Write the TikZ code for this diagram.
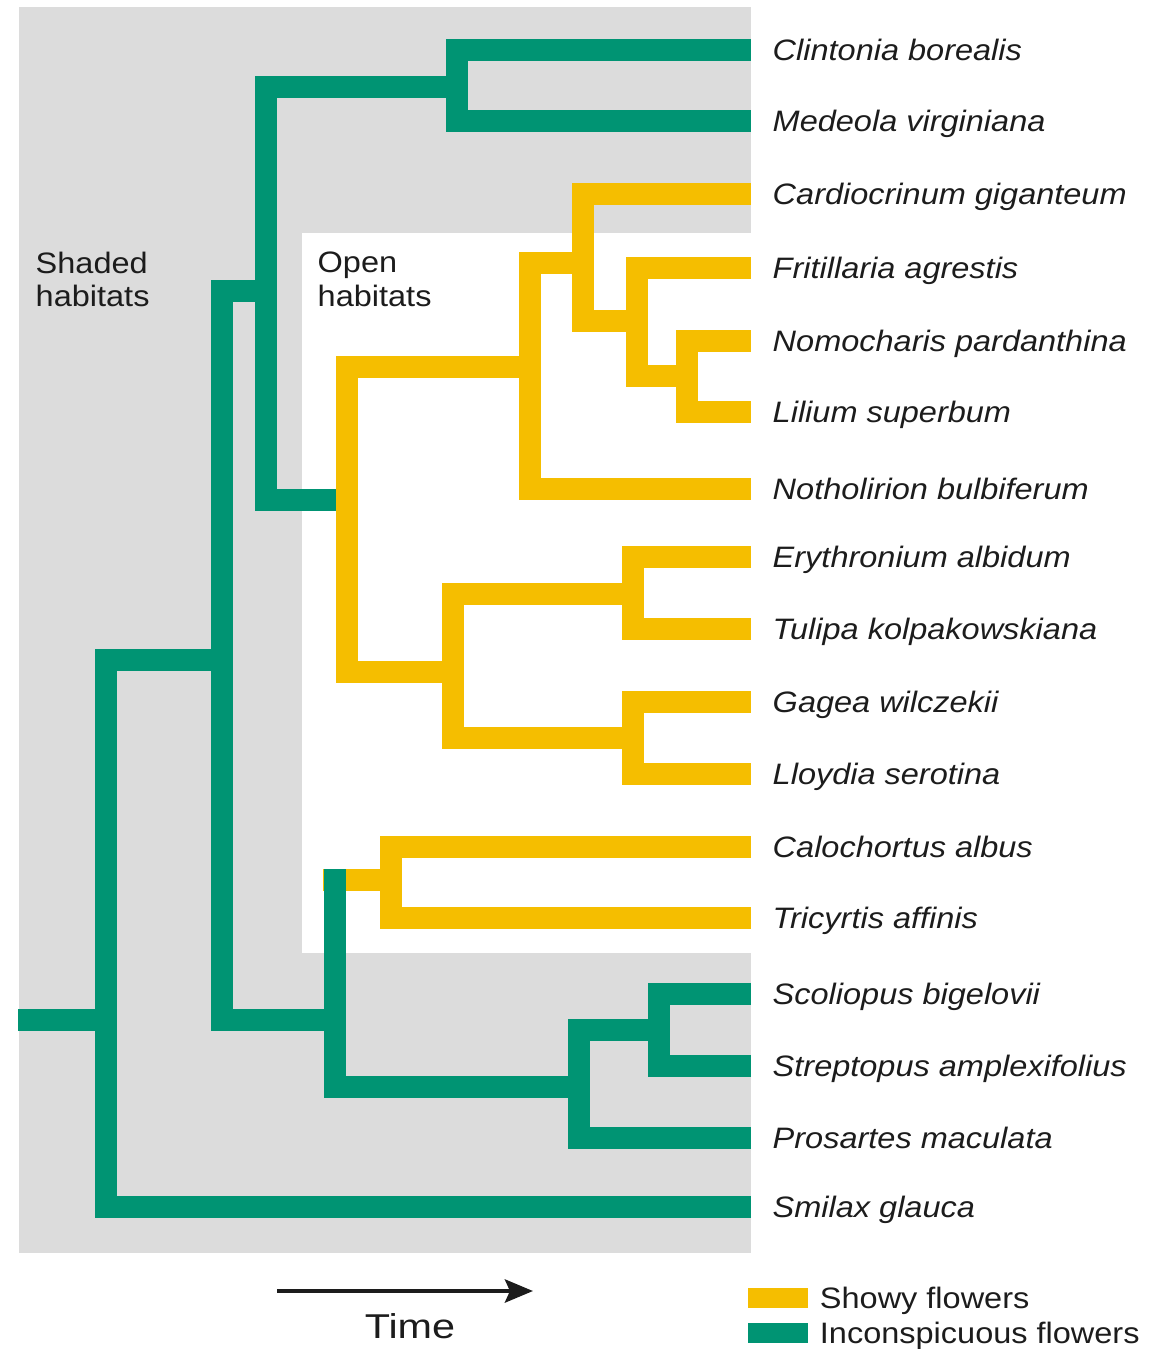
\documentclass[tikz,border=0pt]{standalone}
\usepackage{fontspec}
\setmainfont{Liberation Sans}[FakeStretch=1.1]
\newfontfamily\timefont{Liberation Sans}[FakeStretch=1.2]
\usetikzlibrary{arrows.meta, positioning}
\usepackage{xcolor}
\definecolor{Ink}{HTML}{1C1C1C}
\definecolor{Shade}{HTML}{DCDCDC}
\definecolor{Showy}{HTML}{F5BE00}
\definecolor{Plain}{HTML}{009473}

\begin{document}
\begin{tikzpicture}[
            x=0.01cm, y=-0.01cm,
            node distance=2.1mm,
            branch/.style={line width=6.2pt, line join=miter},
            plainbranch/.style={branch, draw=Plain},
            showybranch/.style={branch, draw=Showy},
            taxon/.style={
                inner sep=0pt,
                font=\fontsize{8.4}{10}\selectfont\itshape,
                text=Ink,
                text height=6pt,
                text depth=0pt
            },
            habitat/.style={
                inner sep=0pt,
                anchor=north west,
                align=left,
                font=\fontsize{8.4}{9.6}\selectfont,
                text=Ink
            },
            swatch/.style={inner sep=0pt, minimum width=0.59cm, minimum height=0.2cm},
            keytext/.style={taxon, font=\fontsize{8.4}{10}\selectfont},
            timearrow/.style={-{Stealth[length=2.8mm, width=2.3mm, inset=0.5mm]}, line width=1.3pt, color=Ink}
        ]
            \useasboundingbox (0,0) rectangle (1160,1349);

            % Habitat areas
            \fill[Shade] (19,7) rectangle (751,1253);
            \fill[white] (302,233) rectangle (751,953);
            \node[habitat] (shaded) at (35,251) {Shaded\\habitats};
            \node[habitat] (open) at (317,251) {Open\\habitats};

            % Internal nodes
            \coordinate (stem) at (18,1020);
            \coordinate (root) at (106,1020);
            \coordinate (core) at (222,660);
            \coordinate (upper) at (266,291);
            \coordinate (clme) at (457,87);
            \coordinate (opengrp) at (347,500);
            \coordinate (lilgrp) at (530,367);
            \coordinate (cafr) at (583,263);
            \coordinate (frno) at (637,321);
            \coordinate (noli) at (687,376);
            \coordinate (erlo) at (453,672);
            \coordinate (ertu) at (633,594);
            \coordinate (galo) at (633,738);
            \coordinate (lower) at (335,1020);
            \coordinate (catrstub) at (323,880);
            \coordinate (catr) at (391,880);
            \coordinate (scpr) at (579,1087);
            \coordinate (scst) at (659,1030);

            % Tips and names
            \coordinate (clintonia) at (751,50);
            \coordinate (medeola) at (751,121);
            \coordinate (cardio) at (751,194);
            \coordinate (fritil) at (751,268);
            \coordinate (nomoch) at (751,341);
            \coordinate (lilium) at (751,412);
            \coordinate (notho) at (751,489);
            \coordinate (erythr) at (751,557);
            \coordinate (tulipa) at (751,629);
            \coordinate (gagea) at (751,702);
            \coordinate (lloydia) at (751,774);
            \coordinate (caloch) at (751,847);
            \coordinate (tricyr) at (751,918);
            \coordinate (scolio) at (751,994);
            \coordinate (strept) at (751,1066);
            \coordinate (prosar) at (751,1138);
            \coordinate (smilax) at (751,1207);

            \node[taxon, right=of clintonia] (clintoniaL) {Clintonia borealis};
            \node[taxon, right=of medeola] (medeolaL) {Medeola virginiana};
            \node[taxon, right=of cardio] (cardioL) {Cardiocrinum giganteum};
            \node[taxon, right=of fritil] (fritilL) {Fritillaria agrestis};
            \node[taxon, right=of nomoch] (nomochL) {Nomocharis pardanthina};
            \node[taxon, right=of lilium] (liliumL) {Lilium superbum};
            \node[taxon, right=of notho] (nothoL) {Notholirion bulbiferum};
            \node[taxon, right=of erythr] (erythrL) {Erythronium albidum};
            \node[taxon, right=of tulipa] (tulipaL) {Tulipa kolpakowskiana};
            \node[taxon, right=of gagea] (gageaL) {Gagea wilczekii};
            \node[taxon, right=of lloydia] (lloydiaL) {Lloydia serotina};
            \node[taxon, right=of caloch] (calochL) {Calochortus albus};
            \node[taxon, right=of tricyr] (tricyrL) {Tricyrtis affinis};
            \node[taxon, right=of scolio] (scolioL) {Scoliopus bigelovii};
            \node[taxon, right=of strept] (streptL) {Streptopus amplexifolius};
            \node[taxon, right=of prosar] (prosarL) {Prosartes maculata};
            \node[taxon, right=of smilax] (smilaxL) {Smilax glauca};

            % Inconspicuous lineages
            \draw[plainbranch] (stem) -- (root);
            \draw[plainbranch] (root) |- (core) (root) |- (smilax);
            \draw[plainbranch] (core) |- (upper) (core) |- (lower);
            \draw[plainbranch] (upper) |- (clme) (upper) |- (opengrp);
            \draw[plainbranch] (clme) |- (clintonia) (clme) |- (medeola);
            \draw[plainbranch] (lower) |- (scpr);
            \draw[plainbranch] (scpr) |- (scst) (scpr) |- (prosar);
            \draw[plainbranch] (scst) |- (scolio) (scst) |- (strept);

            % Showy lineages
            \draw[showybranch] (opengrp) |- (lilgrp) (opengrp) |- (erlo);
            \draw[showybranch] (lilgrp) |- (cafr) (lilgrp) |- (notho);
            \draw[showybranch] (cafr) |- (cardio) (cafr) |- (frno);
            \draw[showybranch] (frno) |- (fritil) (frno) |- (noli);
            \draw[showybranch] (noli) |- (nomoch) (noli) |- (lilium);
            \draw[showybranch] (erlo) |- (ertu) (erlo) |- (galo);
            \draw[showybranch] (ertu) |- (erythr) (ertu) |- (tulipa);
            \draw[showybranch] (galo) |- (gagea) (galo) |- (lloydia);
            \draw[showybranch] (catrstub) -- (catr);
            \draw[showybranch] (catr) |- (caloch) (catr) |- (tricyr);
            \draw[plainbranch, line cap=rect] (lower) -- (lower |- catr);

            % Time axis and key
            \coordinate (tstart) at (277,1291);
            \coordinate (tend) at (533,1291);
            \draw[timearrow] (tstart) -- (tend);
            \node[anchor=base, font=\timefont\fontsize{9.8}{11}\selectfont, text=Ink] (time) at (410,1338) {Time};

            \node[swatch, fill=Showy] (showykey) at (778,1298) {};
            \node[swatch, fill=Plain] (plainkey) at (778,1333) {};
            \node[keytext, right=1.1mm of showykey] (showyL) {Showy flowers};
            \node[keytext, right=1.1mm of plainkey] (plainL) {Inconspicuous flowers};
        \end{tikzpicture}
\end{document}
